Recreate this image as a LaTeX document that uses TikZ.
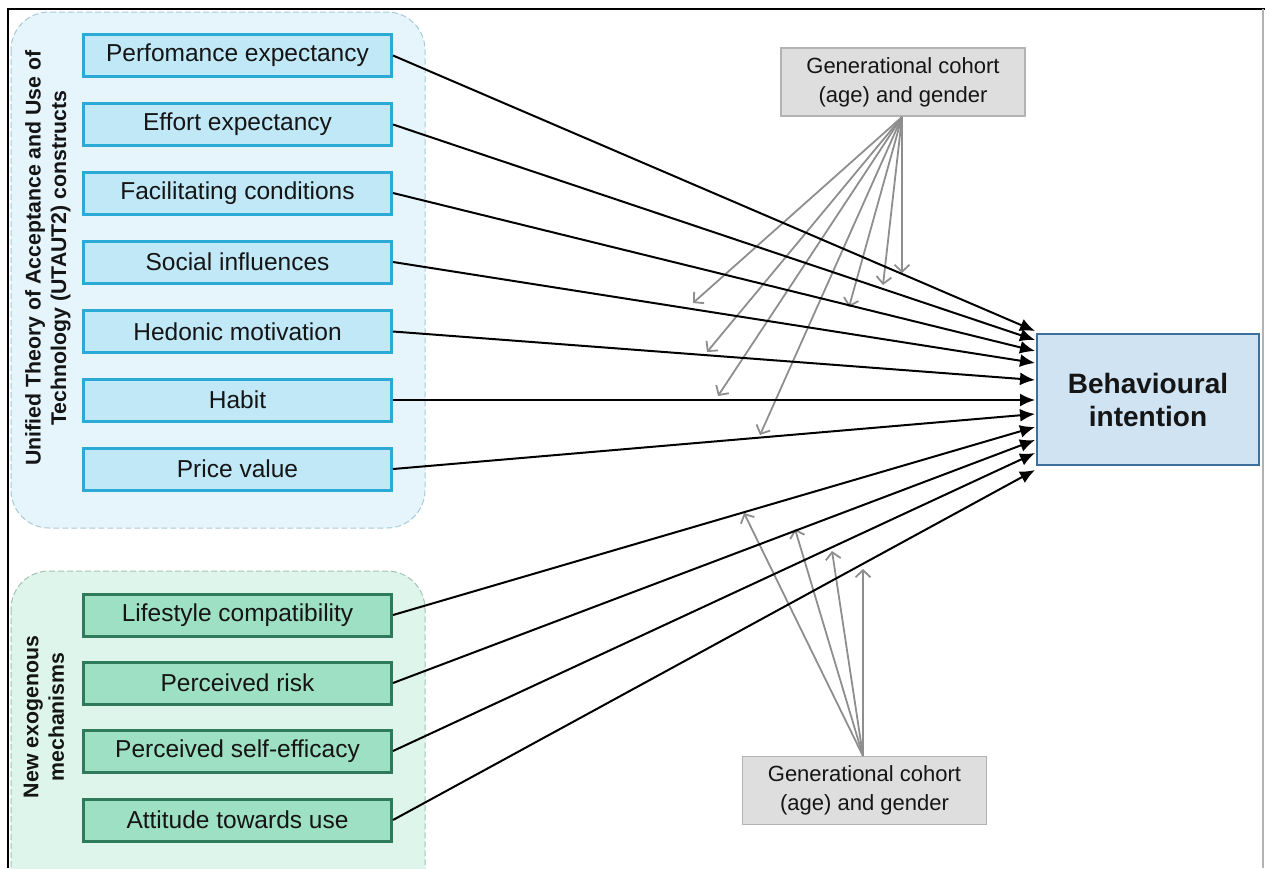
\documentclass[tikz,border=0pt]{standalone}
\usepackage{fontspec}
\setmainfont{Liberation Sans}
\usetikzlibrary{arrows.meta}
\definecolor{textdark}{HTML}{151515}
\definecolor{utautbg}{HTML}{E6F5FC}
\definecolor{utautedge}{HTML}{A9C9D6}
\definecolor{exobg}{HTML}{DDF5EA}
\definecolor{exoedge}{HTML}{A3C2B5}
\definecolor{cyanfill}{HTML}{C0E8F7}
\definecolor{cyanedge}{HTML}{2AAAD5}
\definecolor{greenfill}{HTML}{9EE0C3}
\definecolor{greenedge}{HTML}{2F7A5A}
\definecolor{bifill}{HTML}{CFE3F3}
\definecolor{biedge}{HTML}{3D6F9C}
\definecolor{cohortfill}{HTML}{DEDEDE}
\definecolor{cohortedge}{HTML}{B3B3B3}
\definecolor{modline}{HTML}{8E8E8E}
\begin{document}
\begin{tikzpicture}[x=1pt,y=-1pt,
  construct/.style={draw=cyanedge, fill=cyanfill, line width=3pt,
    minimum width=308pt, minimum height=42pt, inner sep=0pt,
    font=\fontsize{24.5}{29}\selectfont, text=textdark},
  exogenous/.style={construct, draw=greenedge, fill=greenfill},
  cohort/.style={draw=cohortedge, fill=cohortfill, line width=1.8pt,
    minimum width=244pt, minimum height=68pt, inner sep=0pt, align=center,
    font=\fontsize{22}{29}\selectfont, text=textdark},
  grouplabel/.style={rotate=90, align=center, text=textdark,
    font=\fontsize{21.3}{25.5}\selectfont\bfseries},
  groupbox/.style={dashed, dash pattern=on 6pt off 3pt, line width=1pt,
    rounded corners=38pt},
  effect/.style={line width=2pt, -{Latex[length=15pt,width=13pt]}},
  moderation/.style={draw=modline, line width=1.8pt,
    -{Straight Barb[length=7pt,width=15pt]}},
]
\useasboundingbox (0,0) rectangle (1265,868);

% construct groups
\begin{scope}
  \clip (0,0) rectangle (1265,868);
  \draw[groupbox, draw=utautedge, fill=utautbg] (11,12) rectangle (425,528);
  \draw[groupbox, draw=exoedge, fill=exobg] (11,571) rectangle (425,920);
\end{scope}

% frame
\draw[line width=2.8pt] (8,868) -- (8,9) -- (1265,9);
\draw[cohortedge, line width=1.5pt] (1263,9) -- (1263,868);

% group labels
\node[grouplabel] (utautlbl) at (48,258)
  {Unified Theory of Acceptance and Use of\\Technology (UTAUT2) constructs};
\node[grouplabel] (exolbl) at (44,717) {New exogenous\\mechanisms};

% UTAUT2 constructs
\node[construct] (pe) at (237.5,55.5) {Perfomance expectancy};
\node[construct] (ee) at (237.5,124.5) {Effort expectancy};
\node[construct] (fc) at (237.5,193) {Facilitating conditions};
\node[construct] (si) at (237.5,262) {Social influences};
\node[construct] (hm) at (237.5,331.5) {Hedonic motivation};
\node[construct] (hb) at (237.5,400) {Habit};
\node[construct] (pv) at (237.5,469) {Price value};

% new exogenous mechanisms
\node[exogenous] (lc) at (237.5,615) {Lifestyle compatibility};
\node[exogenous] (pr) at (237.5,683) {Perceived risk};
\node[exogenous] (ps) at (237.5,751) {Perceived self-efficacy};
\node[exogenous] (atu) at (237.5,820) {Attitude towards use};

% outcome
\node[draw=biedge, fill=bifill, line width=2.5pt, minimum width=222pt,
  minimum height=131pt, inner sep=0pt, align=center, text=textdark,
  font=\fontsize{28}{33}\selectfont\bfseries] (bi) at (1148,399.5)
  {Behavioural\\intention};

% moderators
\node[cohort] (gtop) at (903,82) {Generational cohort\\(age) and gender};
\node[cohort] (gbot) at (864.5,790.5) {Generational cohort\\(age) and gender};

% moderation arrow ends
\coordinate (m1) at (693,303);
\coordinate (m2) at (707,352);
\coordinate (m3) at (718,396);
\coordinate (m4) at (760,435);
\coordinate (m5) at (849,307);
\coordinate (m6) at (883,285);
\coordinate (m7) at (902,273);
\coordinate (n1) at (744,513);
\coordinate (n2) at (795,529);
\coordinate (n3) at (832,551);
\coordinate (n4) at (863,569);

\coordinate (gtopout) at (902,117);
\coordinate (gbotout) at (863,756);

\foreach \m in {m1,m2,m3,m4,m5,m6,m7}
  \draw[moderation] (gtopout) -- (\m);
\foreach \n in {n1,n2,n3,n4}
  \draw[moderation] (gbotout) -- (\n);

% effect arrow ends on the outcome box
\coordinate (t1) at (1035,331);
\coordinate (t2) at (1035,340);
\coordinate (t3) at (1035,351);
\coordinate (t4) at (1035,363);
\coordinate (t5) at (1035,380);
\coordinate (t6) at (1035,400);
\coordinate (t7) at (1035,414);
\coordinate (t8) at (1035,427);
\coordinate (t9) at (1035,440);
\coordinate (t10) at (1035,453);
\coordinate (t11) at (1035,470);

\draw[effect] (pe.east) -- (t1);
\draw[effect] (ee.east) -- (t2);
\draw[effect] (fc.east) -- (t3);
\draw[effect] (si.east) -- (t4);
\draw[effect] (hm.east) -- (t5);
\draw[effect] (hb.east) -- (t6);
\draw[effect] (pv.east) -- (t7);
\draw[effect] (lc.east) -- (t8);
\draw[effect] (pr.east) -- (t9);
\draw[effect] (ps.east) -- (t10);
\draw[effect] (atu.east) -- (t11);
\end{tikzpicture}
\end{document}
